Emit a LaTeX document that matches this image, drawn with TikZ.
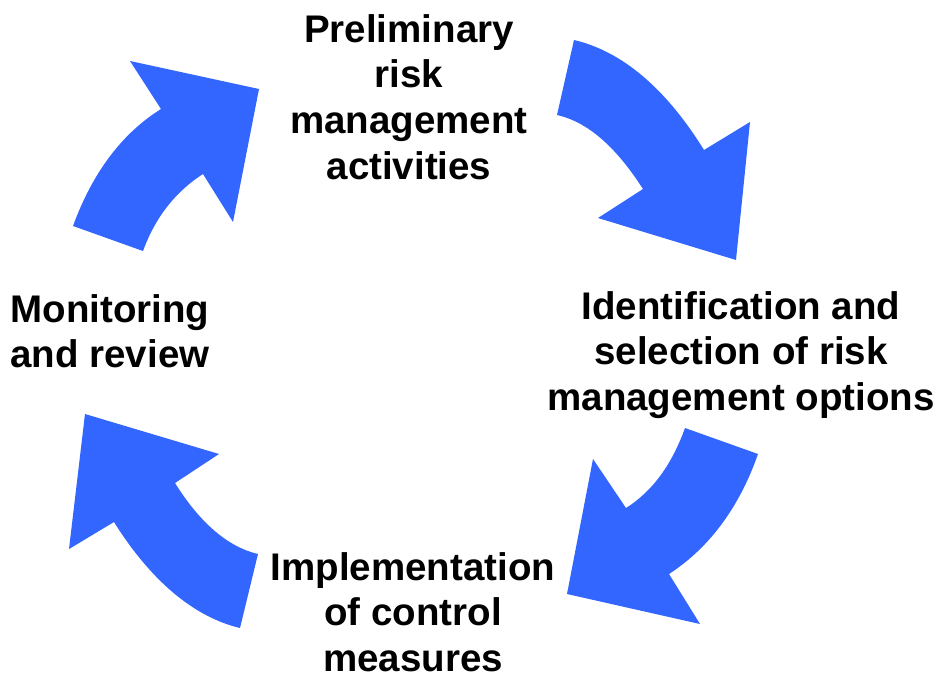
\documentclass[tikz,border=0pt]{standalone}
\usepackage{fontspec}
\setmainfont{Liberation Sans}
\definecolor{arrowblue}{RGB}{51,102,255}

\begin{document}
\begin{tikzpicture}[x=1pt,y=-1pt,
  blk/.style={fill=arrowblue},
  lbl/.style={font=\fontsize{38.5}{45.7}\selectfont\bfseries,align=center,inner sep=0pt,anchor=north}]
\useasboundingbox (0,0) rectangle (937,678);
\fill[blk] (574,40) .. controls (621,51) and (665,87) .. (704,150) -- (750,122) -- (736,260) -- (598,218) -- (643,189)
  .. controls (616,147) and (588,122) .. (557,115) -- cycle;
\fill[blk] (758,454) .. controls (739,508) and (709,548) .. (669,574) -- (700,624) -- (567,594) -- (593,459) -- (626,508)
  .. controls (653,491) and (672,464) .. (685,428) -- cycle;
\fill[blk] (240,628) .. controls (194,617) and (151,581) .. (114,522) -- (69,549) -- (85,414) -- (219,454) -- (175,483)
  .. controls (200,523) and (228,547) .. (258,554) -- cycle;
\fill[blk] (73,226) .. controls (92,174) and (121,134) .. (161,109) -- (130,61) -- (259,89) -- (233,222) -- (203,174)
  .. controls (175,192) and (155,218) .. (143,251) -- cycle;
\node[lbl] (prelim) at (409,14) {Preliminary\\risk\\management\\activities};
\node[lbl] (ident) at (741,291) {Identification and\\selection of risk\\management options};
\node[lbl] (impl) at (413,552) {Implementation\\of control\\measures};
\node[lbl] (monit) at (110,294) {Monitoring\\and review};
\end{tikzpicture}
\end{document}
